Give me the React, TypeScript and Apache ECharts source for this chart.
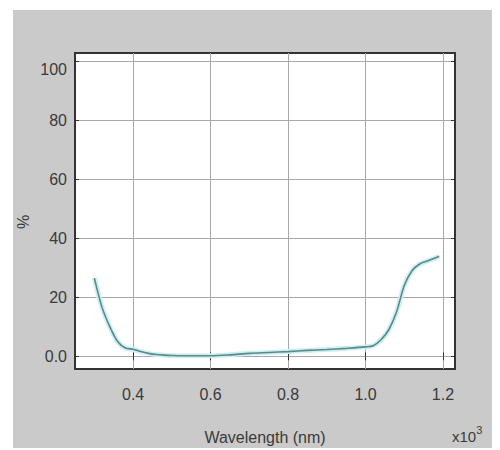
import React, { useEffect, useRef } from "react";
import * as echarts from "echarts";

// Wavelength in 10^3 nm, reflectance in %
const wavelength = [0.30, 0.32, 0.34, 0.36, 0.38, 0.40, 0.42, 0.44, 0.46, 0.48, 0.50, 0.55, 0.60, 0.65, 0.70, 0.75, 0.80, 0.85, 0.90, 0.95, 1.00, 1.02, 1.04, 1.06, 1.08, 1.10, 1.12, 1.14, 1.16, 1.18, 1.19];
const percent = [26.5, 16.5, 10.0, 5.0, 2.8, 2.4, 1.6, 1.0, 0.6, 0.4, 0.3, 0.2, 0.2, 0.5, 1.0, 1.3, 1.6, 2.0, 2.3, 2.7, 3.2, 3.6, 5.6, 9.0, 15.0, 24.0, 29.0, 31.3, 32.3, 33.3, 33.9];
const xTicks = [0.4, 0.6, 0.8, 1.0, 1.2];
const xTickLabels = ["0.4", "0.6", "0.8", "1.0", "1.2"];
const yTicks = [0, 20, 40, 60, 80, 100];
const yTickLabels = ["0.0", "20", "40", "60", "80", "100"];

const FONT = "'Liberation Sans', Arial, sans-serif";
const TEXT = "#3a3a3a";

export default function App() {
  const ref = useRef<HTMLDivElement>(null);
  useEffect(() => {
    if (!ref.current) return;
    const chart = echarts.init(ref.current, null, { renderer: "svg" });
    const pts = wavelength.map((x, i) => [x, percent[i]]);
    const xLab = (v: number) => {
      const i = xTicks.findIndex((t) => Math.abs(t - v) < 1e-6);
      return i >= 0 ? xTickLabels[i] : "";
    };
    const yLab = (v: number) => {
      const i = yTicks.findIndex((t) => Math.abs(t - v) < 1e-6);
      if (i < 0) return "";
      return v === 100 ? "{s|" + yTickLabels[i] + "}" : yTickLabels[i];
    };
    const tick = { show: true, inside: true, length: 4, lineStyle: { color: "#333", width: 1 } };
    chart.setOption({
      animation: false,
      backgroundColor: "#ffffff",
      graphic: [
        { type: "rect", z: -10, shape: { x: 13, y: 10, width: 479, height: 438 }, style: { fill: "#cacaca" } },
        {
          type: "text", x: 23, y: 222, rotation: Math.PI / 2,
          style: { text: "%", font: `16px ${FONT}`, fill: TEXT, align: "center", verticalAlign: "middle" },
        },
        {
          type: "text", x: 452, y: 436,
          style: {
            text: "{a|x10}{b|3}", align: "left", verticalAlign: "middle",
            rich: {
              a: { font: `15px ${FONT}`, fill: TEXT },
              b: { font: `11px ${FONT}`, fill: TEXT, padding: [0, 0, 12, 0] },
            },
          },
        },
      ],
      grid: {
        left: 75, top: 53, width: 380, height: 322,
        show: true, backgroundColor: "#ffffff", borderColor: "#333333", borderWidth: 2,
      },
      xAxis: [
        {
          type: "value", min: 0.25, max: 1.231, position: "bottom",
          name: "Wavelength (nm)", nameLocation: "middle", nameGap: 60,
          nameTextStyle: { fontFamily: FONT, fontSize: 16, color: TEXT },
          axisLine: { show: false },
          axisTick: { ...tick, customValues: xTicks },
          axisLabel: { customValues: xTicks, formatter: xLab, fontFamily: FONT, fontSize: 16, color: TEXT, margin: 17 },
          splitLine: { show: true, lineStyle: { color: "#a8a8a8", width: 1 } },
        },
        {
          type: "value", min: 0.25, max: 1.231, position: "top",
          axisLine: { show: false },
          axisTick: { ...tick, customValues: xTicks },
          axisLabel: { show: false },
          splitLine: { show: false },
        },
      ],
      yAxis: [
        {
          type: "value", min: -4.3, max: 102.8, position: "left",
          axisLine: { show: false },
          axisTick: { ...tick, customValues: yTicks },
          axisLabel: {
            customValues: yTicks, formatter: yLab, fontFamily: FONT, fontSize: 16, color: TEXT, margin: 8,
            rich: { s: { fontFamily: FONT, fontSize: 16, color: TEXT, padding: [16, 0, 0, 0] } },
          },
          splitLine: { show: true, lineStyle: { color: "#a8a8a8", width: 1 } },
        },
        {
          type: "value", min: -4.3, max: 102.8, position: "right",
          axisLine: { show: false },
          axisTick: { ...tick, customValues: yTicks },
          axisLabel: { show: false },
          splitLine: { show: false },
        },
      ],
      series: [
        {
          type: "line", data: pts, showSymbol: false, smooth: 0.3, xAxisIndex: 0, yAxisIndex: 0,
          lineStyle: { color: "#cdeff1", width: 5 }, silent: true, z: 2,
        },
        {
          type: "line", data: pts, showSymbol: false, smooth: 0.3, xAxisIndex: 0, yAxisIndex: 0,
          lineStyle: { color: "#5a888d", width: 1.6 }, z: 3,
        },
      ],
    });
    return () => chart.dispose();
  }, []);
  return <div ref={ref} style={{ position: "fixed", left: 0, top: 0, width: 500, height: 450 }} />;
}
